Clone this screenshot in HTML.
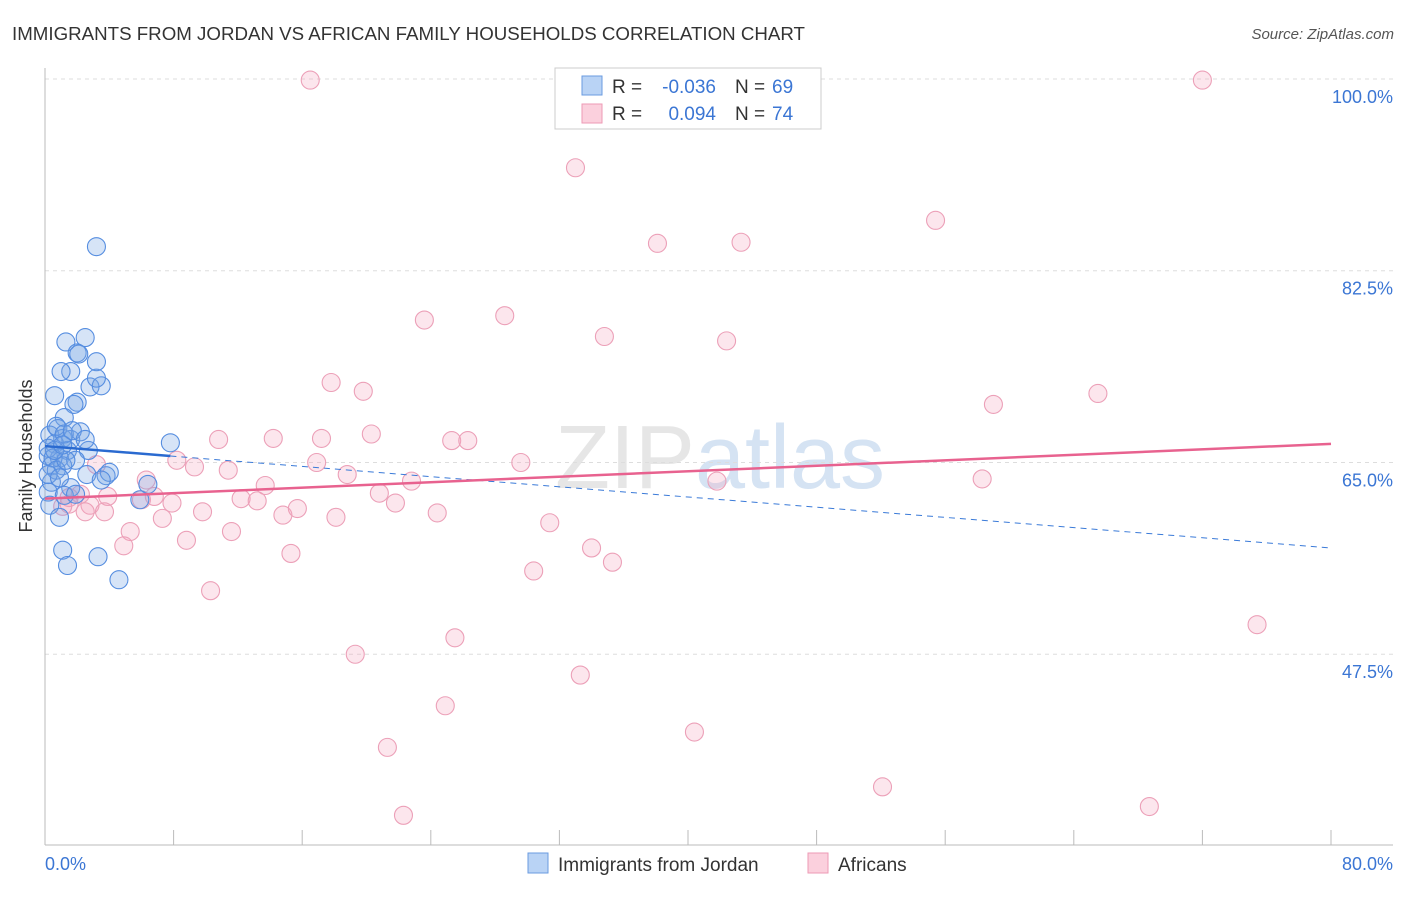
<!DOCTYPE html>
<html><head><meta charset="utf-8"><style>
body{margin:0;background:#fff;font-family:"Liberation Sans",sans-serif}
svg text{font-family:"Liberation Sans",sans-serif}
</style></head><body>
<svg id="c" width="1406" height="892" xmlns="http://www.w3.org/2000/svg">
<text x="12" y="40" font-size="18" fill="#333" textLength="793" lengthAdjust="spacingAndGlyphs">IMMIGRANTS FROM JORDAN VS AFRICAN FAMILY HOUSEHOLDS CORRELATION CHART</text>
<text x="1394" y="39" font-size="15" fill="#555" text-anchor="end" font-style="italic">Source: ZipAtlas.com</text>
<text x="720" y="488" font-size="90" fill="#e6e6e6" text-anchor="middle" font-family="Liberation Serif">ZIP<tspan fill="#d5e3f3" font-family="Liberation Sans">atlas</tspan></text>
<g id="grid"></g>
<line x1="45" y1="68" x2="45" y2="845" stroke="#bbb"/>
<line x1="45" y1="845" x2="1393" y2="845" stroke="#bbb"/>
<text x="32" y="456" font-size="18" fill="#333" text-anchor="middle" transform="rotate(-90 32 456)">Family Households</text>
<text x="45" y="870" font-size="18" fill="#3b76d4">0.0%</text>
<text x="1393" y="870" font-size="18" fill="#3b76d4" text-anchor="end">80.0%</text>
<g id="pts"></g>
<g id="trend"></g>
<g>
<rect x="555" y="68" width="266" height="61" fill="#fff" stroke="#ccc"/>
<rect x="582" y="76" width="20" height="19" fill="#b9d3f5" stroke="#6a9be0"/>
<rect x="582" y="104" width="20" height="19" fill="#fbd0dd" stroke="#ee9ab5"/>
<text x="612" y="93" font-size="19" fill="#333">R =</text>
<text x="716" y="93" font-size="19" fill="#3b76d4" text-anchor="end">-0.036</text>
<text x="735" y="93" font-size="19" fill="#333">N =</text>
<text x="772" y="93" font-size="19" fill="#3b76d4">69</text>
<text x="612" y="120" font-size="19" fill="#333">R =</text>
<text x="716" y="120" font-size="19" fill="#3b76d4" text-anchor="end">0.094</text>
<text x="735" y="120" font-size="19" fill="#333">N =</text>
<text x="772" y="120" font-size="19" fill="#3b76d4">74</text>
</g>
<g>
<rect x="528" y="853" width="20" height="20" fill="#b9d3f5" stroke="#6a9be0"/>
<text x="558" y="871" font-size="19" fill="#333">Immigrants from Jordan</text>
<rect x="808" y="853" width="20" height="20" fill="#fbd0dd" stroke="#ee9ab5"/>
<text x="838" y="871" font-size="19" fill="#333">Africans</text>
</g>
</svg>
<script>
const yTicks=[100,82.5,65,47.5];
const yTickLabels=["100.0%","82.5%","65.0%","47.5%"];
const xTicks=[0,8,16,24,32,40,48,56,64,72,80];
const blueX=[3.2,1.3,2.5,2.0,1.6,3.2,2.1,1.0,2.8,3.5,3.2,0.6,2.0,1.8,1.2,0.8,0.3,1.1,1.6,2.2,0.6,1.4,2.7,0.2,0.9,1.9,0.4,1.1,2.6,3.8,4.0,3.5,0.4,1.6,0.2,1.2,1.9,6.4,5.9,0.3,0.9,1.1,1.4,3.3,4.6,7.8,0.7,1.2,0.2,0.5,0.7,0.2,0.9,1.7,2.5,1.3,0.6,1.1];
const blueY=[84.7,76.0,76.4,75.0,73.3,74.2,74.9,73.3,71.9,72.0,72.7,71.1,70.5,70.3,69.1,68.1,67.5,67.2,67.1,67.8,66.7,66.1,66.1,65.6,65.4,65.2,64.7,64.7,63.9,63.8,64.1,63.4,63.2,62.7,62.3,62.0,62.1,63.0,61.6,61.1,60.0,57.0,55.6,56.4,54.3,66.8,68.3,67.6,66.3,65.4,64.3,63.9,63.6,67.9,67.1,65.2,66.1,66.6];
const pinkX=[16.5,72.0,33.0,55.4,38.1,43.3,23.6,28.6,34.8,42.4,17.8,19.8,59.0,65.5,10.8,14.2,17.2,20.3,25.3,26.3,8.2,9.3,11.4,16.9,18.8,29.6,22.8,41.8,58.3,3.2,6.3,13.7,6.8,6.0,12.2,13.2,20.8,21.8,3.9,2.8,1.5,2.5,3.7,7.9,9.8,14.8,15.7,18.1,24.4,7.3,31.4,5.3,11.6,4.9,8.8,15.3,34.0,35.3,30.4,10.3,19.3,25.5,33.3,24.9,40.4,21.3,52.1,22.3,68.7,75.4,1.5,2.2,1.1];
const pinkY=[99.9,99.9,91.9,87.1,85.0,85.1,78.0,78.4,76.5,76.1,72.3,71.5,70.3,71.3,67.1,67.2,67.2,67.6,67.0,67.0,65.2,64.6,64.3,65.0,63.9,65.0,63.3,63.3,63.5,64.8,63.4,62.9,61.9,61.6,61.7,61.5,62.2,61.3,61.9,61.1,61.2,60.5,60.5,61.3,60.5,60.2,60.8,60.0,60.4,59.9,59.5,58.7,58.7,57.4,57.9,56.7,57.2,55.9,55.1,53.3,47.5,49.0,45.6,42.8,40.4,39.0,35.4,32.8,33.6,50.2,61.8,62.1,61.0];
const blueTrend=[66.5,57.2];
const pinkTrend=[61.7,66.7];
const X=v=>45+v*16.075, Y=v=>79+(100-v)*10.957;
const NS="http://www.w3.org/2000/svg";
function mk(p,t,a){const e=document.createElementNS(NS,t);for(const k in a)e.setAttribute(k,a[k]);p.appendChild(e);return e;}
const g=document.getElementById('grid');
yTicks.forEach((v,i)=>{
 const l=mk(g,'line',{x1:45,x2:1393,y1:Y(v),y2:Y(v),stroke:'#ddd','stroke-dasharray':'4 4'});
 
 
 const t=mk(g,'text',{x:1393,y:Y(v)+24,'font-size':18,fill:'#3b76d4','text-anchor':'end'});
 t.textContent=yTickLabels[i];
 
 
});
xTicks.forEach(v=>{
 const l=mk(g,'line',{x1:X(v),x2:X(v),y1:830,y2:845,stroke:'#bbb'});
 
 
});
const pg=document.getElementById('pts');
pinkX.forEach((x,i)=>{
 const c=mk(pg,'circle',{cx:X(x),cy:Y(pinkY[i]),r:9,fill:'rgba(244,165,190,0.28)',stroke:'#eca0b8','stroke-width':1.1});
 
 
});
blueX.forEach((x,i)=>{
 const c=mk(pg,'circle',{cx:X(x),cy:Y(blueY[i]),r:9,fill:'rgba(120,165,230,0.3)',stroke:'#558de0','stroke-width':1.1});
 
 
});
const tg=document.getElementById('trend');
const bAt=x=>blueTrend[0]+(blueTrend[1]-blueTrend[0])*x/80;
let l1=mk(tg,'line',{x1:X(0),y1:Y(bAt(0)),x2:X(7.8),y2:Y(bAt(7.8)),stroke:'#2a6ad0','stroke-width':2.5});


let l2=mk(tg,'line',{x1:X(7.8),y1:Y(bAt(7.8)),x2:X(80),y2:Y(bAt(80)),stroke:'#3a7ad8','stroke-width':1,'stroke-dasharray':'6 5'});


let l3=mk(tg,'line',{x1:X(0),y1:Y(pinkTrend[0]),x2:X(80),y2:Y(pinkTrend[1]),stroke:'#e8628f','stroke-width':2.5});


</script>
</body></html>
